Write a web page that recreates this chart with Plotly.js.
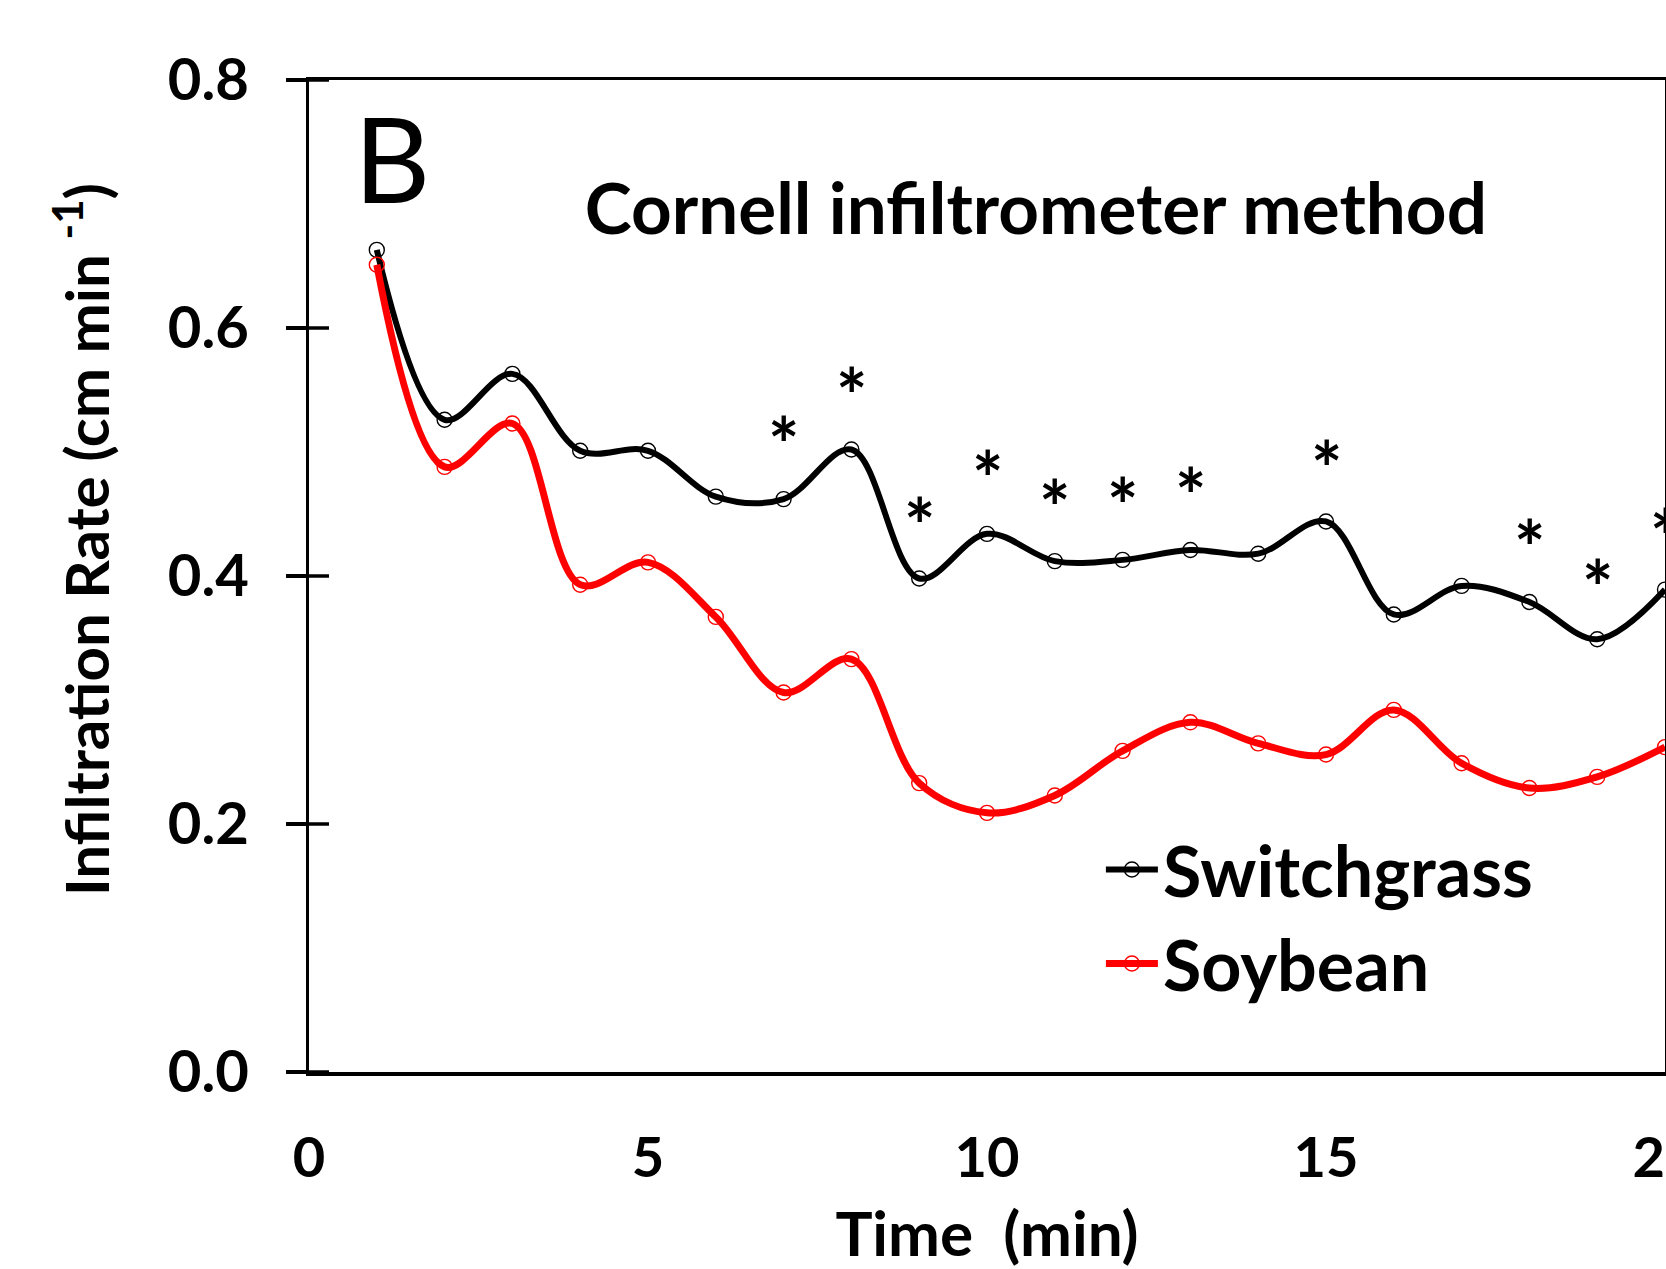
<!DOCTYPE html>
<html>
<head>
<meta charset="utf-8">
<script src="https://cdn.plot.ly/plotly-3.0.1.min.js"></script>
<style>
  html, body { margin: 0; padding: 0; background: #fff; overflow: hidden; }
  #chart { width: 1666px; height: 1269px; }
</style>
</head>
<body>
<div id="chart"></div>
<script>
// ---- data ----
const timeMin = [1, 2, 3, 4, 5, 6, 7, 8, 9, 10, 11, 12, 13, 14, 15, 16, 17, 18, 19, 20];
const switchgrass = [0.663, 0.526, 0.563, 0.501, 0.501, 0.464, 0.462, 0.502, 0.398, 0.434,
                     0.412, 0.413, 0.421, 0.418, 0.444, 0.369, 0.392, 0.379, 0.349, 0.389];
const soybean = [0.651, 0.488, 0.523, 0.393, 0.411, 0.367, 0.306, 0.333, 0.233, 0.209,
                 0.223, 0.259, 0.282, 0.265, 0.256, 0.292, 0.249, 0.229, 0.238, 0.262];
// significance markers (asterisks): time and vertical position on the y scale
const sigTime = [7, 8, 9, 10, 11, 12, 13, 15, 18, 19, 20];
const sigPos = [0.518, 0.558, 0.453, 0.491, 0.467, 0.469, 0.477, 0.499, 0.435, 0.403, 0.444];
const yTickVals = [0, 0.2, 0.4, 0.6, 0.8];
const xTickVals = [0, 5, 10, 15, 20];
const seriesNames = ['Switchgrass', 'Soybean'];
const panelLabel = 'B';
const chartTitle = 'Cornell infiltrometer method';
const xTitle = 'Time&nbsp;&nbsp;(min)';
const yTitle = '&nbsp;&nbsp;&nbsp;&nbsp;&nbsp;Infiltration Rate (cm min <sup>-1</sup>)';

const FONT = 'Lato, "Open Sans", sans-serif';
const W = 1666, H = 1269;
const M = { l: 309, r: 1, t: 80, b: 197, pad: 0 };
const TICK_LEN = 20;
const AXIS_W = 3.5;

const traces = [
  {
    x: timeMin, y: switchgrass, name: seriesNames[0],
    type: 'scatter', mode: 'lines+markers',
    line: { color: '#000000', width: 6, shape: 'spline', smoothing: 1 },
    marker: { symbol: 'circle-open', size: 15, color: '#000000', line: { width: 1.4, color: '#000000' } }
  },
  {
    x: timeMin, y: soybean, name: seriesNames[1],
    type: 'scatter', mode: 'lines+markers',
    line: { color: '#ff0000', width: 7, shape: 'spline', smoothing: 1 },
    marker: { symbol: 'circle-open', size: 15, color: '#ff0000', line: { width: 1.4, color: '#ff0000' } }
  },
  // Excel-style "cross" tick marks on the y axis (span both sides of the axis line)
  {
    x: yTickVals.map(() => 0), y: yTickVals,
    type: 'scatter', mode: 'markers', showlegend: false, hoverinfo: 'skip',
    cliponaxis: false,
    marker: { symbol: 'line-ew-open', size: (TICK_LEN * 2) / 1.4, color: '#000',
              line: { width: AXIS_W, color: '#000' } }
  }
];

const annotations = sigTime.map((t, i) => ({
  x: t, y: sigPos[i], xref: 'x', yref: 'y',
  text: '*', showarrow: false, xanchor: 'center', yanchor: 'middle',
  yshift: -14,
  font: { family: FONT, size: 74, color: '#000', weight: 700 }
}));
annotations.push({
  x: 0.0613, y: 0.9215, xref: 'paper', yref: 'paper',
  text: panelLabel, showarrow: false, xanchor: 'center', yanchor: 'middle',
  font: { family: FONT, size: 118, color: '#000', weight: 400 }
});

const layout = {
  width: W, height: H,
  margin: M,
  paper_bgcolor: '#ffffff', plot_bgcolor: '#ffffff',
  font: { family: FONT, color: '#000', weight: 700 },
  showlegend: true,
  title: {
    text: chartTitle, xref: 'paper', yref: 'paper',
    x: 0.536, y: 0.8697, xanchor: 'center', yanchor: 'middle',
    font: { family: FONT, size: 71, color: '#000', weight: 700 }
  },
  xaxis: {
    range: [0, 20], tickmode: 'array', tickvals: xTickVals,
    showgrid: false, zeroline: false,
    showline: true, linecolor: '#000', linewidth: AXIS_W, mirror: true,
    ticks: '', ticklabelstandoff: 34, ticklabeloverflow: 'allow',
    tickfont: { family: FONT, size: 56, color: '#000', weight: 700 },
    title: { text: xTitle, standoff: 38, font: { family: FONT, size: 62, color: '#000', weight: 700 } },
    automargin: false, fixedrange: true
  },
  yaxis: {
    range: [0, 0.8], tickmode: 'array', tickvals: yTickVals,
    tickformat: '.1f',
    showgrid: false, zeroline: false,
    showline: true, linecolor: '#000', linewidth: AXIS_W, mirror: true,
    ticks: 'outside', ticklen: TICK_LEN, tickwidth: AXIS_W, tickcolor: '#000',
    ticklabelstandoff: 25,
    tickfont: { family: FONT, size: 58, color: '#000', weight: 700 },
    title: { text: yTitle, standoff: 40, font: { family: FONT, size: 60, color: '#000', weight: 700 } },
    automargin: false, fixedrange: true
  },
  legend: {
    x: 0.584, y: 0.2565, xanchor: 'left', yanchor: 'top',
    bgcolor: 'rgba(0,0,0,0)', borderwidth: 0,
    itemwidth: 52, tracegroupgap: 0,
    font: { family: FONT, size: 70, color: '#000', weight: 700 }
  },
  annotations: annotations
};

Plotly.newPlot('chart', traces, layout, { displayModeBar: false, staticPlot: true });
</script>
</body>
</html>
